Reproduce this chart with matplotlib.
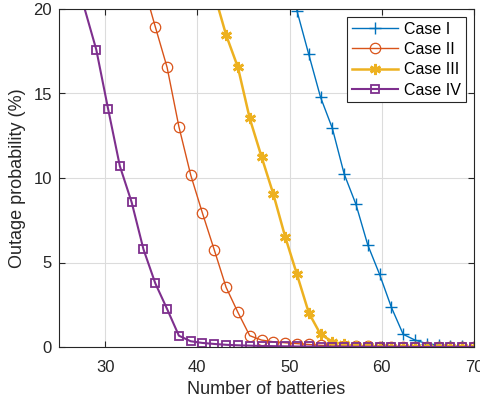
import matplotlib
matplotlib.use("Agg")
import matplotlib.pyplot as plt

plt.rcParams['font.family'] = ['Liberation Sans', 'DejaVu Sans']

# Number of batteries (sample points) and outage probabilities (%) per case
x_case1 = [49.52, 50.8, 52.08, 53.36, 54.64, 55.92, 57.2, 58.48, 59.76, 61.04,
           62.32, 63.6, 64.88, 66.16, 67.44, 68.72, 70.0]
y_case1 = [22.5, 19.9, 17.32, 14.78, 12.94, 10.24, 8.44, 6.04, 4.30, 2.35,
           0.75, 0.41, 0.20, 0.10, 0.05, 0.03, 0.02]

x_case2 = [34.16, 35.44, 36.72, 38.0, 39.28, 40.56, 41.84, 43.12, 44.4, 45.68,
           46.96, 48.24, 49.52, 50.8, 52.08, 53.36, 54.64, 55.92, 57.2, 58.48,
           59.76, 61.04, 62.32, 63.6, 64.88, 66.16, 67.44, 68.72, 70.0]
y_case2 = [21.4, 18.95, 16.55, 13.04, 10.18, 7.91, 5.74, 3.53, 2.05, 0.67,
           0.41, 0.31, 0.25, 0.20, 0.15, 0.10, 0.07, 0.05, 0.04, 0.03,
           0.02, 0.02, 0.01, 0.01, 0.01, 0.01, 0.0, 0.0, 0.0]

x_case3 = [41.84, 43.12, 44.4, 45.68, 46.96, 48.24, 49.52, 50.8, 52.08, 53.36,
           54.64, 55.92, 57.2, 58.48, 59.76, 61.04, 62.32, 63.6, 64.88, 66.16,
           67.44, 68.72, 70.0]
y_case3 = [20.9, 18.46, 16.55, 13.53, 11.26, 9.05, 6.53, 4.30, 2.03, 0.75,
           0.32, 0.15, 0.07, 0.04, 0.02, 0.01, 0.01, 0.0, 0.0, 0.0,
           0.0, 0.0, 0.0]

x_case4 = [27.76, 29.04, 30.32, 31.6, 32.88, 34.16, 35.44, 36.72, 38.0, 39.28,
           40.56, 41.84, 43.12, 44.4, 45.68, 46.96, 48.24, 49.52, 50.8, 52.08,
           53.36, 54.64, 55.92, 57.2, 58.48, 59.76, 61.04, 62.32, 63.6, 64.88,
           66.16, 67.44, 68.72, 70.0]
y_case4 = [20.05, 17.6, 14.1, 10.7, 8.56, 5.78, 3.77, 2.25, 0.67, 0.34,
           0.24, 0.18, 0.13, 0.10, 0.08, 0.06, 0.05, 0.04, 0.03, 0.03,
           0.02, 0.02, 0.02, 0.01, 0.01, 0.01, 0.01, 0.01, 0.0, 0.0,
           0.0, 0.0, 0.0, 0.0]

labels = ['Case I', 'Case II', 'Case III', 'Case IV']
x_ticks = [30, 40, 50, 60, 70]
y_ticks = [0, 5, 10, 15, 20]
y_top = 20

c_blue = '#0072BD'
c_orange = '#D95319'
c_yellow = '#EDB120'
c_purple = '#7E2F8E'
axis_col = '#262626'


def inside(ys):
    # markers are only drawn for samples within the y-range
    return [i for i, v in enumerate(ys) if v <= y_top]


fig = plt.figure(figsize=(4.81, 4.07), dpi=100)
ax = fig.add_axes([59 / 481, 1 - 347 / 407, (474 - 59) / 481, (347 - 9) / 407])

ax.plot(x_case1, y_case1, color=c_blue, lw=1.0, marker='+', ms=8, mew=1.0,
        markevery=inside(y_case1), label=labels[0])
ax.plot(x_case2, y_case2, color=c_orange, lw=1.0, marker='o', ms=7.5, mew=0.9,
        mfc='none', markevery=inside(y_case2), label=labels[1])
ax.plot(x_case3, y_case3, color=c_yellow, lw=1.8, marker=(6, 2, 0), ms=8,
        mew=1.9, markevery=inside(y_case3), label=labels[2])
ax.plot(x_case4, y_case4, color=c_purple, lw=1.5, marker='s', ms=6, mew=1.3,
        mfc='none', markevery=inside(y_case4), label=labels[3])

ax.set_xlim(25, 70)
ax.set_ylim(0, y_top)
ax.set_xticks(x_ticks)
ax.set_yticks(y_ticks)
ax.grid(True, color='#dcdcdc', lw=0.8)
ax.set_axisbelow(True)

for s in ax.spines.values():
    s.set_color(axis_col)
    s.set_linewidth(0.8)
ax.tick_params(direction='in', length=4, width=0.8, colors=axis_col,
               labelsize=12, top=True, right=True, pad=5)
ax.tick_params(axis='x', pad=9)
for lab in ax.get_xticklabels() + ax.get_yticklabels():
    lab.set_color(axis_col)

ax.set_xlabel('Number of batteries', fontsize=13, color=axis_col, labelpad=5)
ax.set_ylabel('Outage probability (%)', fontsize=13, color=axis_col, labelpad=5)

leg = ax.legend(loc='upper right', fontsize=11.5, frameon=True, fancybox=False,
                edgecolor=axis_col, framealpha=1, handlelength=2.9,
                borderaxespad=0.5, labelspacing=0.33, handletextpad=0.4,
                borderpad=0.3)
leg.get_frame().set_linewidth(0.8)

fig.savefig('out.png', dpi=100)
